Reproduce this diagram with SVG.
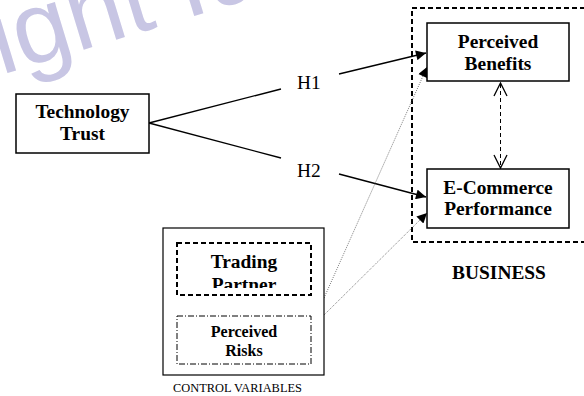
<svg xmlns="http://www.w3.org/2000/svg" width="584" height="396" viewBox="0 0 584 396">
<defs>
<style>
.box{fill:#fff;stroke:#000;stroke-width:1.5}
.t{font-family:"Liberation Serif","Times New Roman",serif;font-weight:bold;font-size:19.4px;text-anchor:middle;fill:#000}
.h{font-family:"Liberation Serif","Times New Roman",serif;font-size:19.4px;fill:#000}
.conn{stroke:#000;stroke-width:1.3;fill:none}
.dot{stroke:#555;stroke-width:0.8;stroke-dasharray:1,1.2;fill:none}
.wm{font-family:"Liberation Sans",Arial,sans-serif;font-size:102px;fill:#c8c6e4}
</style>
<marker id="ah" viewBox="0 0 10 10" refX="10" refY="5" markerWidth="12" markerHeight="10" markerUnits="userSpaceOnUse" orient="auto">
<path d="M0,0 L10,5 L0,10 z" fill="#000"/>
</marker>
<clipPath id="tp"><rect x="177" y="243" width="134" height="45"/></clipPath>
</defs>
<rect width="584" height="396" fill="#fff"/>
<g id="watermark" transform="translate(1,75) rotate(-17)">
<text class="wm" x="0" y="0" text-anchor="end">Copyr</text>
<text class="wm" x="0" y="0">ight Idea</text>
</g>
<g id="business">
<rect x="412" y="8" width="190" height="234" fill="none" stroke="#000" stroke-width="2" stroke-dasharray="5,3"/>
<text class="t" x="499" y="279">BUSINESS</text>
</g>
<g id="connectors">
<line class="conn" x1="149" y1="123" x2="281" y2="89"/>
<line class="conn" x1="149" y1="123" x2="281" y2="158"/>
<line class="conn" x1="339" y1="74" x2="426" y2="53" marker-end="url(#ah)"/>
<line class="conn" x1="339" y1="174" x2="426" y2="197" marker-end="url(#ah)"/>
<line x1="500.5" y1="84" x2="500.5" y2="167" stroke="#000" stroke-width="1" stroke-dasharray="4,3"/>
<path d="M494,96 L500.5,83 L507,96 M494,155 L500.5,168 L507,155" fill="none" stroke="#000" stroke-width="1.3"/>
<line class="dot" x1="324" y1="298" x2="427" y2="67" marker-end="url(#ah)"/>
<line class="dot" x1="324" y1="315" x2="427" y2="213" marker-end="url(#ah)"/>
</g>
<g id="tech">
<rect class="box" x="16" y="94" width="133" height="59"/>
<text class="t" x="82.5" y="118">Technology</text>
<text class="t" x="82.5" y="140">Trust</text>
</g>
<g id="h1"><text class="h" x="297" y="89">H1</text></g>
<g id="h2"><text class="h" x="297" y="177">H2</text></g>
<g id="benefits">
<rect class="box" x="427" y="23" width="142" height="58"/>
<text class="t" x="498" y="48">Perceived</text>
<text class="t" x="498" y="70">Benefits</text>
</g>
<g id="ecommerce">
<rect class="box" x="427" y="169" width="142" height="59"/>
<text class="t" x="498" y="194">E-Commerce</text>
<text class="t" x="498" y="215">Performance</text>
</g>
<g id="control">
<rect x="163" y="228" width="161" height="147" fill="#fff" stroke="#000" stroke-width="1.2"/>
<text x="237.5" y="392" font-family="'Liberation Serif','Times New Roman',serif" font-size="12.4" text-anchor="middle">CONTROL VARIABLES</text>
</g>
<g id="trading">
<g clip-path="url(#tp)">
<text class="t" x="244" y="268">Trading</text>
<text class="t" x="244" y="291">Partner</text>
</g>
<rect x="177" y="243" width="134" height="52" fill="none" stroke="#000" stroke-width="2" stroke-dasharray="5,3"/>
</g>
<g id="risks">
<rect x="177" y="316" width="134" height="48" fill="none" stroke="#000" stroke-width="1" stroke-dasharray="6,2,1,2"/>
<text class="t" x="244" y="337" style="font-size:16px">Perceived</text>
<text class="t" x="244" y="356" style="font-size:16px">Risks</text>
</g>
</svg>
